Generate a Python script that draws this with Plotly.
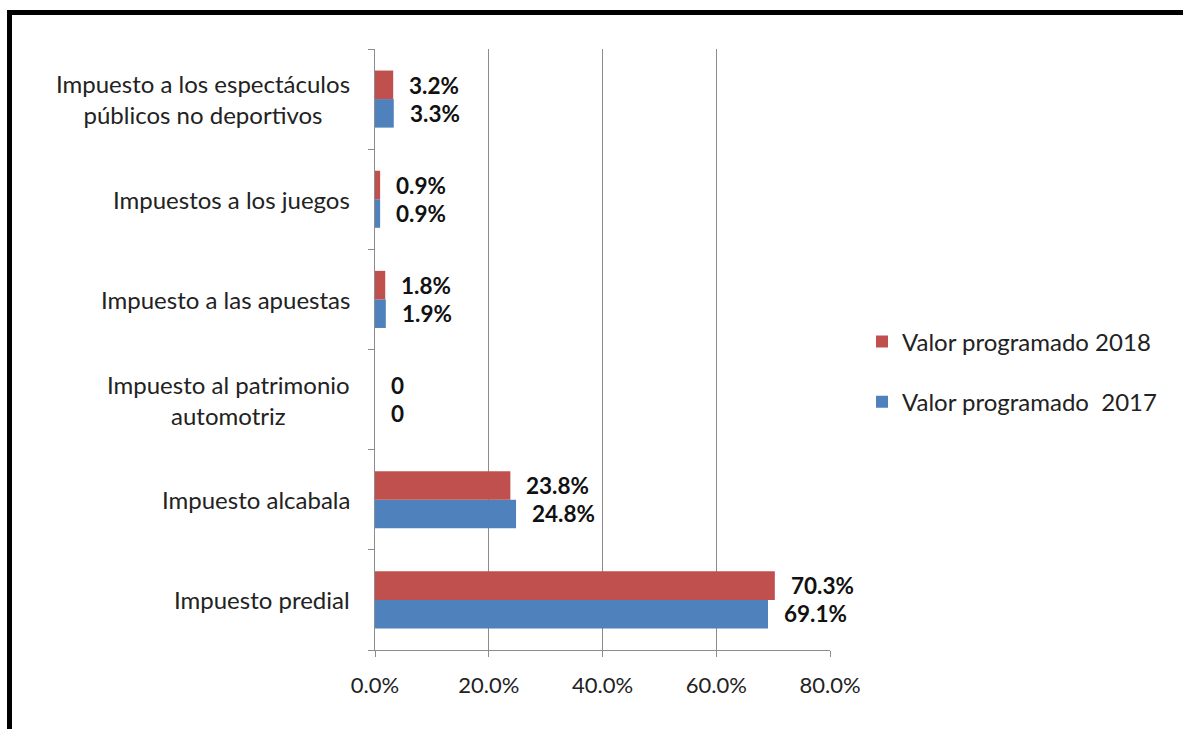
import plotly.graph_objects as go

categories = [
    "Impuesto predial",
    "Impuesto alcabala",
    "Impuesto al patrimonio<br>automotriz",
    "Impuesto a las apuestas",
    "Impuestos a los juegos",
    "Impuesto a los espectáculos<br>públicos no deportivos",
]
values_2018 = [70.3, 23.8, 0, 1.8, 0.9, 3.2]
values_2017 = [69.1, 24.8, 0, 1.9, 0.9, 3.3]
name_2018 = "Valor programado 2018"
name_2017 = "Valor programado  2017"
x_ticks = [0, 20, 40, 60, 80]
x_tick_labels = ["0.0%", "20.0%", "40.0%", "60.0%", "80.0%"]

RED = "#C0504D"
BLUE = "#4F81BD"
GRID = "#8C8C8C"
FONT = "Lato"

W, H = 1183, 729
L, R, T, B = 375, 353, 49, 79
pw = W - L - R
ph = H - T - B

def px_x(p):
    return (p - L) / pw

def px_y(p):
    return (H - B - p) / ph

def lab(v):
    return "0" if v == 0 else f"{v:.1f}%"

fig = go.Figure()
fig.add_trace(go.Bar(
    y=categories, x=values_2017, orientation="h", name=name_2017,
    marker=dict(color=BLUE, line=dict(width=0)), legendgroup="a", legendrank=2,
    hoverinfo="x+y",
))
fig.add_trace(go.Bar(
    y=categories, x=values_2018, orientation="h", name=name_2018,
    marker=dict(color=RED, line=dict(width=0)), legendgroup="b", legendrank=1,
    hoverinfo="x+y",
))

annotations = []
for c, v in zip(categories, values_2018):
    annotations.append(dict(x=v, y=c, xref="x", yref="y", text=f"<b>{lab(v)}</b>",
                            showarrow=False, xanchor="left", yanchor="middle",
                            xshift=14, yshift=14,
                            font=dict(family=FONT, size=22.5, color="#111")))
for c, v in zip(categories, values_2017):
    annotations.append(dict(x=v, y=c, xref="x", yref="y", text=f"<b>{lab(v)}</b>",
                            showarrow=False, xanchor="left", yanchor="middle",
                            xshift=14, yshift=-14,
                            font=dict(family=FONT, size=22.5, color="#111")))
for c in categories:
    annotations.append(dict(x=0, y=c, xref="paper", yref="y", text=c,
                            showarrow=False, xanchor="right", yanchor="middle",
                            align="center", xshift=-23,
                            font=dict(family=FONT, size=24, color="#222")))

shapes = [
    dict(type="line", xref="paper", yref="paper",
         x0=px_x(7), x1=px_x(W + 5), y0=px_y(12.5), y1=px_y(12.5),
         line=dict(color="black", width=5)),
    dict(type="line", xref="paper", yref="paper",
         x0=px_x(9.5), x1=px_x(9.5), y0=px_y(10), y1=px_y(H + 5),
         line=dict(color="black", width=5)),
]

fig.update_layout(
    width=W, height=H,
    margin=dict(l=L, r=R, t=T, b=B, pad=0),
    paper_bgcolor="white", plot_bgcolor="white",
    barmode="group", bargap=0.43, bargroupgap=0,
    font=dict(family=FONT, size=21, color="#222"),
    showlegend=True,
    legend=dict(x=px_x(862), y=px_y(372), xanchor="left", yanchor="middle",
                traceorder="grouped", tracegroupgap=26,
                font=dict(family=FONT, size=24, color="#222"),
                bgcolor="rgba(0,0,0,0)"),
    xaxis=dict(range=[0, 80], tickvals=x_ticks, ticktext=x_tick_labels,
               showgrid=True, gridcolor=GRID, gridwidth=1,
               showline=True, linecolor=GRID, linewidth=1,
               ticks="outside", ticklen=6, tickcolor=GRID,
               ticklabelstandoff=10,
               zeroline=False, fixedrange=True,
               tickfont=dict(family=FONT, size=22, color="#222")),
    yaxis=dict(categoryorder="array", categoryarray=categories,
               showticklabels=False, showgrid=False,
               showline=True, linecolor=GRID, linewidth=1,
               ticks="outside", ticklen=6, tickcolor=GRID, tickson="boundaries",
               zeroline=False, fixedrange=True),
    annotations=annotations,
    shapes=shapes,
)

fig.write_html("out.html", config={"displayModeBar": False},
               post_script="document.body.style.margin='0';")
